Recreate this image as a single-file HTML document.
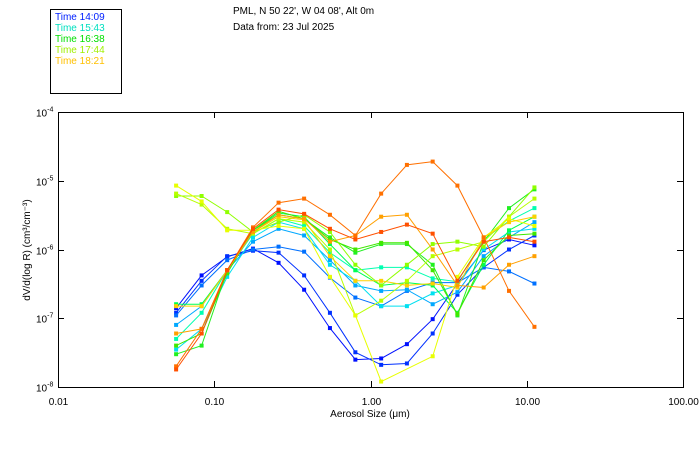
<!DOCTYPE html>
<html><head><meta charset="utf-8"><style>
body{margin:0;background:#fff}
svg{display:block;font-family:"Liberation Sans",sans-serif}
</style></head><body>
<svg id="chart" width="700" height="450">
<rect x="50.5" y="9.5" width="71" height="84" fill="none" stroke="#000"/>
<g font-size="10">
<text x="55" y="20" fill="#0020ff">Time 14:09</text>
<text x="55" y="31" fill="#00e0c0">Time 15:43</text>
<text x="55" y="42" fill="#00e000">Time 16:38</text>
<text x="55" y="53" fill="#a0f000">Time 17:44</text>
<text x="55" y="64" fill="#ffc000">Time 18:21</text>
<text x="233" y="14" fill="#000">PML, N 50 22', W 04 08', Alt 0m</text>
<text x="233" y="30" fill="#000">Data from: 23 Jul 2025</text>
<text x="370" y="417" text-anchor="middle" fill="#000">Aerosol Size (μm)</text>
<text transform="translate(30,250) rotate(-90)" text-anchor="middle" fill="#000">dV/d(log R) (cm³/cm⁻³)</text>
</g>
<rect x="58.5" y="112.5" width="625" height="275" fill="none" stroke="#000"/>
<g id="axes"></g>
<g id="series"></g>
</svg>
<script>
const sizes=[0.057,0.083,0.121,0.177,0.258,0.376,0.55,0.80,1.17,1.71,2.5,3.6,5.3,7.7,11.2];
const xTicks=[0.01,0.1,1,10,100];
const xTickLabels=["0.01","0.10","1.00","10.00","100.00"];
const yTickExps=[-4,-5,-6,-7,-8];
const colors=["#0010ff","#0030ff","#0070ff","#00a8ff","#00e0f0","#00ffb0","#00ff50","#20f020","#40e800","#90ff00","#b8ff00","#e8ff00","#ffd000","#ffa000","#ff7000","#ff5000"];
const s1=[1.4e-7,4.2e-7,7.8e-7,1.03e-6,6.4e-7,2.6e-7,7.2e-8,2.5e-8,2.6e-8,4.2e-8,9.7e-8,3.2e-7,9.8e-7,1.4e-6,1.15e-6];
const s2=[1.2e-7,3.5e-7,8e-7,9.6e-7,9e-7,4.2e-7,1.2e-7,3.2e-8,2.1e-8,2.2e-8,6e-8,2.2e-7,5.5e-7,1e-6,1.6e-6];
const s3=[1.1e-7,3e-7,7e-7,1e-6,1.1e-6,9.3e-7,3.9e-7,2e-7,1.5e-7,2.5e-7,3.3e-7,3.3e-7,5.5e-7,4.8e-7,3.2e-7];
const s4=[8e-8,1.5e-7,5e-7,1.3e-6,2e-6,1.6e-6,7e-7,3e-7,2.5e-7,2.6e-7,1.6e-7,2.4e-7,8e-7,1.5e-6,2.5e-6];
const s5=[3.5e-8,7e-8,4e-7,1.5e-6,2.5e-6,2e-6,6e-7,3.5e-7,1.5e-7,1.5e-7,2.3e-7,3e-7,1e-6,1.8e-6,2e-6];
const s6=[5e-8,1.2e-7,5e-7,1.7e-6,2.8e-6,2.2e-6,9e-7,5e-7,5.5e-7,5.5e-7,3.8e-7,3.4e-7,1.4e-6,2.6e-6,4e-6];
const s7=[1.6e-7,1.6e-7,5e-7,1.9e-6,3.4e-6,3e-6,1.2e-6,5e-7,3e-7,3.3e-7,3e-7,1.2e-7,6e-7,1.9e-6,3e-6];
const s8=[3e-8,4e-8,5e-7,1.9e-6,3.2e-6,2.8e-6,1.5e-6,9e-7,1.2e-6,1.2e-6,6e-7,1.1e-7,1.3e-6,4e-6,7.5e-6];
const s9=[4e-8,6e-8,4.5e-7,1.9e-6,3.6e-6,2.8e-6,1.4e-6,1e-6,1.25e-6,1.25e-6,5e-7,1.15e-7,7e-7,1.6e-6,1.7e-6];
const s10=[6e-6,6e-6,3.5e-6,1.8e-6,2.5e-6,3.2e-6,1.8e-6,6e-7,3e-7,6e-7,1.2e-6,1.3e-6,1.1e-6,3e-6,8e-6];
const s11=[6.5e-6,4.5e-6,2e-6,1.7e-6,2.8e-6,2.5e-6,1e-6,1.1e-7,1.8e-7,3.5e-7,8e-7,1e-6,1.3e-6,3e-6,5.5e-6];
const s12=[8.5e-6,5e-6,1.9e-6,1.9e-6,2.2e-6,2e-6,4e-7,1.1e-7,1.2e-8,null,2.8e-8,4e-7,1.5e-6,2.8e-6,2.2e-6];
const s13=[1.5e-7,1.5e-7,5e-7,1.8e-6,3e-6,2.7e-6,8e-7,3.5e-7,3.5e-7,3e-7,3.2e-7,2.8e-7,1.5e-6,2.5e-6,3e-6];
const s14=[6e-8,7e-8,5e-7,1.8e-6,3.2e-6,2.8e-6,1.3e-6,1.6e-6,3e-6,3.2e-6,1e-6,3e-7,2.8e-7,6e-7,8e-7];
const s15=[2e-8,7e-8,5e-7,2.1e-6,4.8e-6,5.5e-6,3.2e-6,1.6e-6,6.5e-6,1.7e-5,1.9e-5,8.5e-6,1.5e-6,2.5e-7,7.5e-8];
const s16=[1.8e-8,6e-8,5e-7,2e-6,3.8e-6,3.3e-6,2e-6,1.4e-6,1.8e-6,2.3e-6,1.7e-6,3.5e-7,1.3e-6,1.5e-6,1.3e-6];
const seriesList=[s1,s2,s3,s4,s5,s6,s7,s8,s9,s10,s11,s12,s13,s14,s15,s16];

const NS="http://www.w3.org/2000/svg";
const X0=58,X1=683,Y0=387,Y1=112;
function xs(v){return X0+(Math.log10(v)+2)/4*(X1-X0);}
function ys(v){return Y0-(Math.log10(v)+8)/4*(Y0-Y1);}
function mk(tag,attrs,parent){const e=document.createElementNS(NS,tag);for(const k in attrs)e.setAttribute(k,attrs[k]);parent.appendChild(e);return e;}
const axes=document.getElementById('axes');
xTicks.forEach((t,i)=>{
  const x=Math.round(xs(t))+0.5;
  const tk=mk('line',{x1:x,x2:x,y1:Y0,y2:Y0-6,stroke:'#000'},axes);
  
  
  const tk2=mk('line',{x1:x,x2:x,y1:Y1,y2:Y1+6,stroke:'#000'},axes);
  
  
  const lb=mk('text',{x:x,y:405,'text-anchor':'middle','font-size':10,fill:'#000'},axes);
  lb.textContent=xTickLabels[i];
  
  
});
yTickExps.forEach(e=>{
  const y=Math.round(ys(Math.pow(10,e)))+0.5;
  const tk=mk('line',{x1:X0,x2:X0+6,y1:y,y2:y,stroke:'#000'},axes);
  
  
  const tk2=mk('line',{x1:X1,x2:X1-6,y1:y,y2:y,stroke:'#000'},axes);
  
  
  const lb=mk('text',{x:36,y:y+4,'font-size':10,fill:'#000'},axes);
  
  
  lb.textContent='10';
  const sp=mk('tspan',{dy:-5,'font-size':7},lb);
  sp.textContent=String(e);
});
const sg=document.getElementById('series');
seriesList.forEach((s,si)=>{
  const g=mk('g',{},sg);
  
  
  let d='';let pen=false;
  s.forEach((v,i)=>{
    if(v==null){return;}
    d+=(pen?'L':'M')+xs(sizes[i]).toFixed(1)+','+ys(v).toFixed(1);pen=true;
  });
  const p=mk('path',{d:d,fill:'none',stroke:colors[si],'stroke-width':1},g);
  
  
  s.forEach((v,i)=>{
    if(v==null)return;
    const r=mk('rect',{x:xs(sizes[i])-2,y:ys(v)-2,width:4,height:4,fill:colors[si]},g);
    
    
  });
});
</script>
</body></html>
